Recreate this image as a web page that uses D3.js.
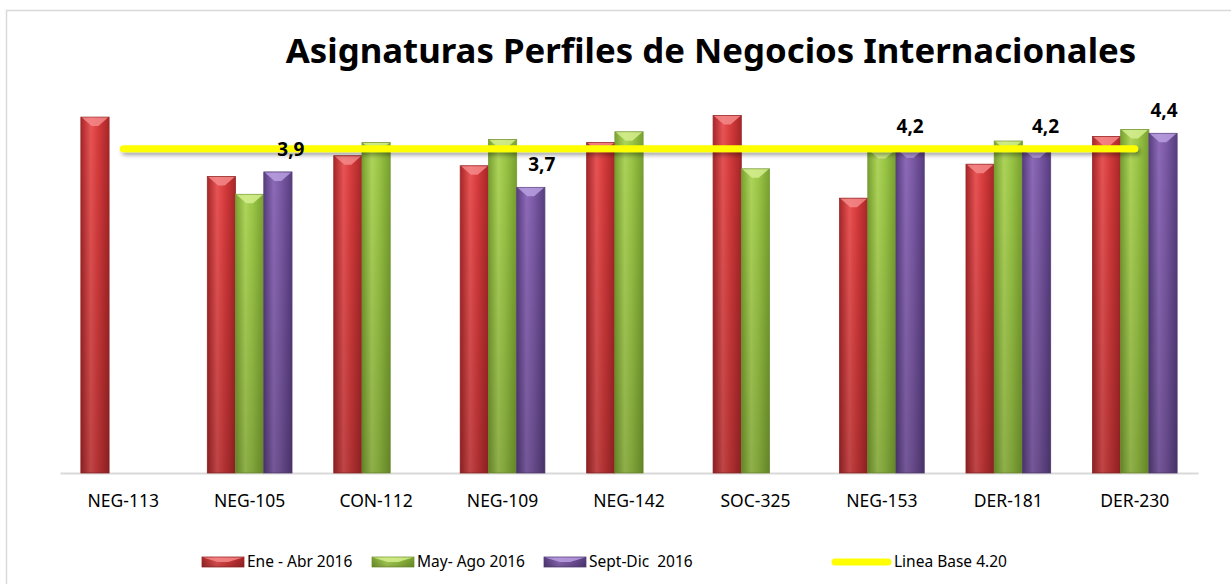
<!DOCTYPE html>
<html>
<head>
<meta charset="utf-8">
<script src="https://cdn.jsdelivr.net/npm/d3@7"></script>
<style>
  body { margin: 0; background: #fff; }
  text { font-family: "Noto Sans", sans-serif; }
</style>
</head>
<body>
<div id="chart"></div>
<script>
// data
var categories = ["NEG-113", "NEG-105", "CON-112", "NEG-109", "NEG-142", "SOC-325", "NEG-153", "DER-181", "DER-230"];
var seriesNames = ["Ene - Abr 2016", "May- Ago 2016", "Sept-Dic  2016"];
var eneAbr  = [4.61, 3.84, 4.11, 3.98, 4.28, 4.63, 3.56, 4.00, 4.36];
var mayAgo  = [null, 3.61, 4.28, 4.32, 4.42, 3.94, 4.19, 4.30, 4.45];
var septDic = [null, 3.90, null, 3.70, null, null, 4.20, 4.20, 4.40];
var lineaBase = 4.20;
var lineaName = "Linea Base 4.20";

var W = 1231, H = 584;
var svg = d3.select("#chart").append("svg").attr("width", W).attr("height", H);
var defs = svg.append("defs");

// chart frame
svg.append("rect").attr("x", 6.5).attr("y", 10.5).attr("width", 1240).attr("height", 600)
  .style("fill", "none").style("stroke", "#d9d9d9").style("stroke-width", 1.5);

var x = d3.scaleBand().domain(categories).range([60, 1198]).paddingInner(0.33).paddingOuter(0.165);
var y = d3.scaleLinear().domain([0, 5]).range([473, 87]);
var xs = d3.scaleBand().domain(d3.range(3)).range([0, x.bandwidth()]);

var colors = [
  {dark: "#a82628", mid: "#d83c3d", light: "#e85455", bevel: "#f58a8a", line: "#9a2a2b"},
  {dark: "#78a12f", mid: "#9cc747", light: "#aed55a", bevel: "#d5ee8f", line: "#7a9a38"},
  {dark: "#573d7f", mid: "#7c5aa6", light: "#8d6ab8", bevel: "#b9a0e0", line: "#5a437c"}
];

colors.forEach(function(c, i) {
  var g = defs.append("linearGradient").attr("id", "grad" + i).attr("x1", 0).attr("x2", 1).attr("y1", 0).attr("y2", 0);
  g.append("stop").attr("offset", "0%").attr("stop-color", c.dark);
  g.append("stop").attr("offset", "35%").attr("stop-color", c.light);
  g.append("stop").attr("offset", "60%").attr("stop-color", c.mid);
  g.append("stop").attr("offset", "100%").attr("stop-color", c.dark);
});
var shade = defs.append("linearGradient").attr("id", "shade").attr("x1", 0).attr("x2", 0).attr("y1", 0).attr("y2", 1);
shade.append("stop").attr("offset", "0%").attr("stop-color", "#000").attr("stop-opacity", 0);
shade.append("stop").attr("offset", "100%").attr("stop-color", "#000").attr("stop-opacity", 0.18);

// shadow under the base line (user space, a flat line has no bbox height)
var shadow = defs.append("filter").attr("id", "shadow").attr("filterUnits", "userSpaceOnUse")
  .attr("x", 0).attr("y", 100).attr("width", W).attr("height", 100);
shadow.append("feGaussianBlur").attr("in", "SourceAlpha").attr("stdDeviation", 2);
shadow.append("feOffset").attr("dx", 2).attr("dy", 3).attr("result", "b");
shadow.append("feComponentTransfer").append("feFuncA").attr("type", "linear").attr("slope", 0.35);
var merge = shadow.append("feMerge");
merge.append("feMergeNode");
merge.append("feMergeNode").attr("in", "SourceGraphic");

// title
var title = svg.append("text").attr("x", 711).attr("y", 63).attr("text-anchor", "middle")
  .style("font-weight", "bold").style("font-size", "31px").style("fill", "#000")
  .text("Asignaturas Perfiles de Negocios Internacionales");
var tl = title.node().getComputedTextLength();
title.style("font-size", (31 * 851 / tl) + "px");

// axis
var xAxis = d3.axisBottom(x).tickSize(0).tickSizeOuter(0).tickPadding(22);
var ax = svg.append("g").attr("class", "x axis").attr("transform", "translate(0,473)").call(xAxis);
ax.select(".domain").style("stroke", "#d9d9d9").style("stroke-width", 2);
ax.selectAll("text").style("font-size", "17.5px").style("fill", "#000").style("font-family", "'Noto Sans', sans-serif");

function drawBar(g, bx, top, bw, bottom, i) {
  var c = colors[i];
  g.append("rect").attr("x", bx).attr("y", top).attr("width", bw).attr("height", bottom - top)
    .style("fill", "url(#grad" + i + ")").style("stroke", c.line).style("stroke-width", 0.8);
  g.append("rect").attr("x", bx).attr("y", top).attr("width", bw).attr("height", bottom - top)
    .style("fill", "url(#shade)");
  var d = Math.min(9, (bottom - top) / 2);
  g.append("polygon")
    .attr("points", [[bx + 1, top + 0.5], [bx + bw - 1, top + 0.5], [bx + bw * 0.62, top + d], [bx + bw * 0.38, top + d]].join(" "))
    .style("fill", c.bevel).style("opacity", 0.85);
}

var series = [eneAbr, mayAgo, septDic];
var bars = svg.append("g");
series.forEach(function(vals, i) {
  vals.forEach(function(v, j) {
    if (v == null) return;
    drawBar(bars, x(categories[j]) + xs(i), y(v), xs.bandwidth(), y(0), i);
  });
});

// baseline line
svg.append("line")
  .attr("x1", x(categories[0]) + x.bandwidth() / 2)
  .attr("x2", x(categories[categories.length - 1]) + x.bandwidth() / 2)
  .attr("y1", y(lineaBase)).attr("y2", y(lineaBase))
  .style("stroke", "#ffff00").style("stroke-width", 7).style("stroke-linecap", "round")
  .attr("filter", "url(#shadow)");

// data labels on the Sept-Dic series (nudged like the original)
var labelDx = [0, 13, 0, 11, 0, 0, 0, 9, 1];
var fmt = d3.format(".1f");
svg.append("g").selectAll("text")
  .data(septDic.map(function(v, j) { return {v: v, j: j}; }).filter(function(d) { return d.v != null; }))
  .enter().append("text")
    .attr("x", function(d) { return x(categories[d.j]) + xs(2) + xs.bandwidth() / 2 + labelDx[d.j]; })
    .attr("y", function(d) { return y(d.v) - 16; })
    .attr("text-anchor", "middle")
    .style("font-weight", "bold").style("font-size", "19px").style("fill", "#000")
    .text(function(d) { return fmt(d.v).replace(".", ","); });

// legend
var legendX = [202, 372, 544];
var legY = 557;
var leg = svg.append("g");
seriesNames.forEach(function(name, i) {
  drawBar(leg, legendX[i], legY, 42, legY + 10, i);
  leg.append("text").attr("x", legendX[i] + 45).attr("y", legY + 10).style("font-size", "15.5px").style("fill", "#000")
    .style("white-space", "pre").text(name);
});
leg.append("line").attr("x1", 835).attr("x2", 888).attr("y1", legY + 5).attr("y2", legY + 5)
  .style("stroke", "#ffff00").style("stroke-width", 7).style("stroke-linecap", "round");
leg.append("text").attr("x", 894).attr("y", legY + 10).style("font-size", "15.5px").style("fill", "#000").text(lineaName);
</script>
</body>
</html>
